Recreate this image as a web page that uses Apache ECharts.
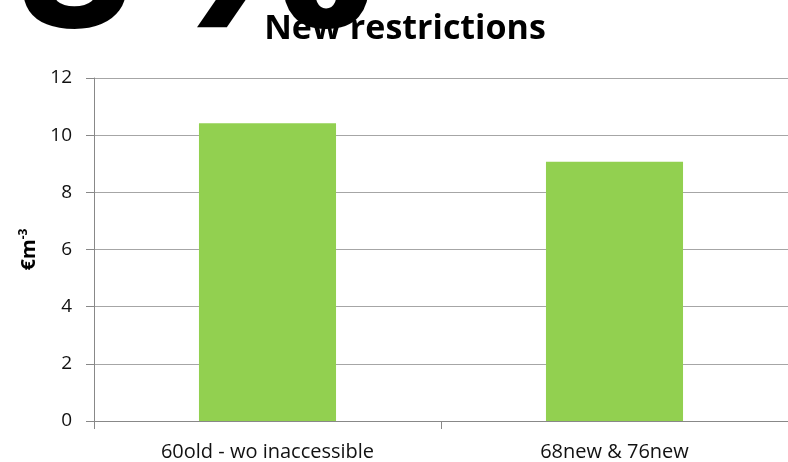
<!DOCTYPE html>
<html><head><meta charset="utf-8">
<script src="https://cdn.jsdelivr.net/npm/echarts@6/dist/echarts.min.js"></script>
<style>html,body{margin:0;padding:0;background:#fff}#c{width:788px;height:462px}</style>
</head><body><div id="c"></div>
<script>
const categories = ['60old - wo inaccessible', '68new & 76new'];
const values = [10.42, 9.07];
const yTicks = [0, 2, 4, 6, 8, 10, 12];
const titleText = 'New restrictions';
const bigDigit = '8';
const bigSign = '%';

const bigFont = 'bold 205px "Open Sans"';
const chart = echarts.init(document.getElementById('c'));
chart.setOption({
  animation: false,
  backgroundColor: '#ffffff',
  title: {
    text: titleText, left: 400, top: 7, textAlign: 'center',
    textStyle: { fontFamily: 'Open Sans', fontWeight: 'bold', fontSize: 34, color: '#000' }
  },
  graphic: [
    { type: 'text', x: 16, y: -134, z: 100,
      style: { text: bigDigit, font: bigFont, fill: '#000', verticalAlign: 'top', align: 'left' } },
    { type: 'text', x: 148, y: -134, scaleX: 1.24, z: 100,
      style: { text: bigSign, font: bigFont, fill: '#000', verticalAlign: 'top', align: 'left' } }
  ],
  grid: { left: 94, right: -2, top: 78, bottom: 40 },
  xAxis: {
    type: 'category', data: categories,
    axisLine: { lineStyle: { color: '#888888', width: 1 } },
    axisTick: { show: true, alignWithLabel: false, length: 8, lineStyle: { color: '#888888' } },
    axisLabel: { fontFamily: 'Open Sans', fontSize: 20, color: '#111', margin: 21 }
  },
  yAxis: {
    type: 'value', min: yTicks[0], max: yTicks[yTicks.length - 1], interval: 2,
    name: '{a|€m}{s|-3}', nameLocation: 'middle', nameGap: 54, nameRotate: 90,
    nameTextStyle: { rich: {
      a: { fontFamily: 'Open Sans', fontWeight: 'bold', fontSize: 20, color: '#000' },
      s: { fontFamily: 'Open Sans', fontWeight: 'bold', fontSize: 12, color: '#000', verticalAlign: 'top', padding: [0,0,10,0] }
    } },
    axisLine: { show: true, lineStyle: { color: '#888888' } },
    axisTick: { show: true, length: 8, inside: false, lineStyle: { color: '#888888' } },
    axisLabel: { fontFamily: 'Open Sans', fontSize: 19, color: '#111', margin: 22 },
    splitLine: { lineStyle: { color: '#a6a6a6', width: 1 } }
  },
  series: [{
    type: 'bar', data: values, barWidth: '39.5%',
    itemStyle: { color: '#92d050' }
  }]
});
</script></body></html>
